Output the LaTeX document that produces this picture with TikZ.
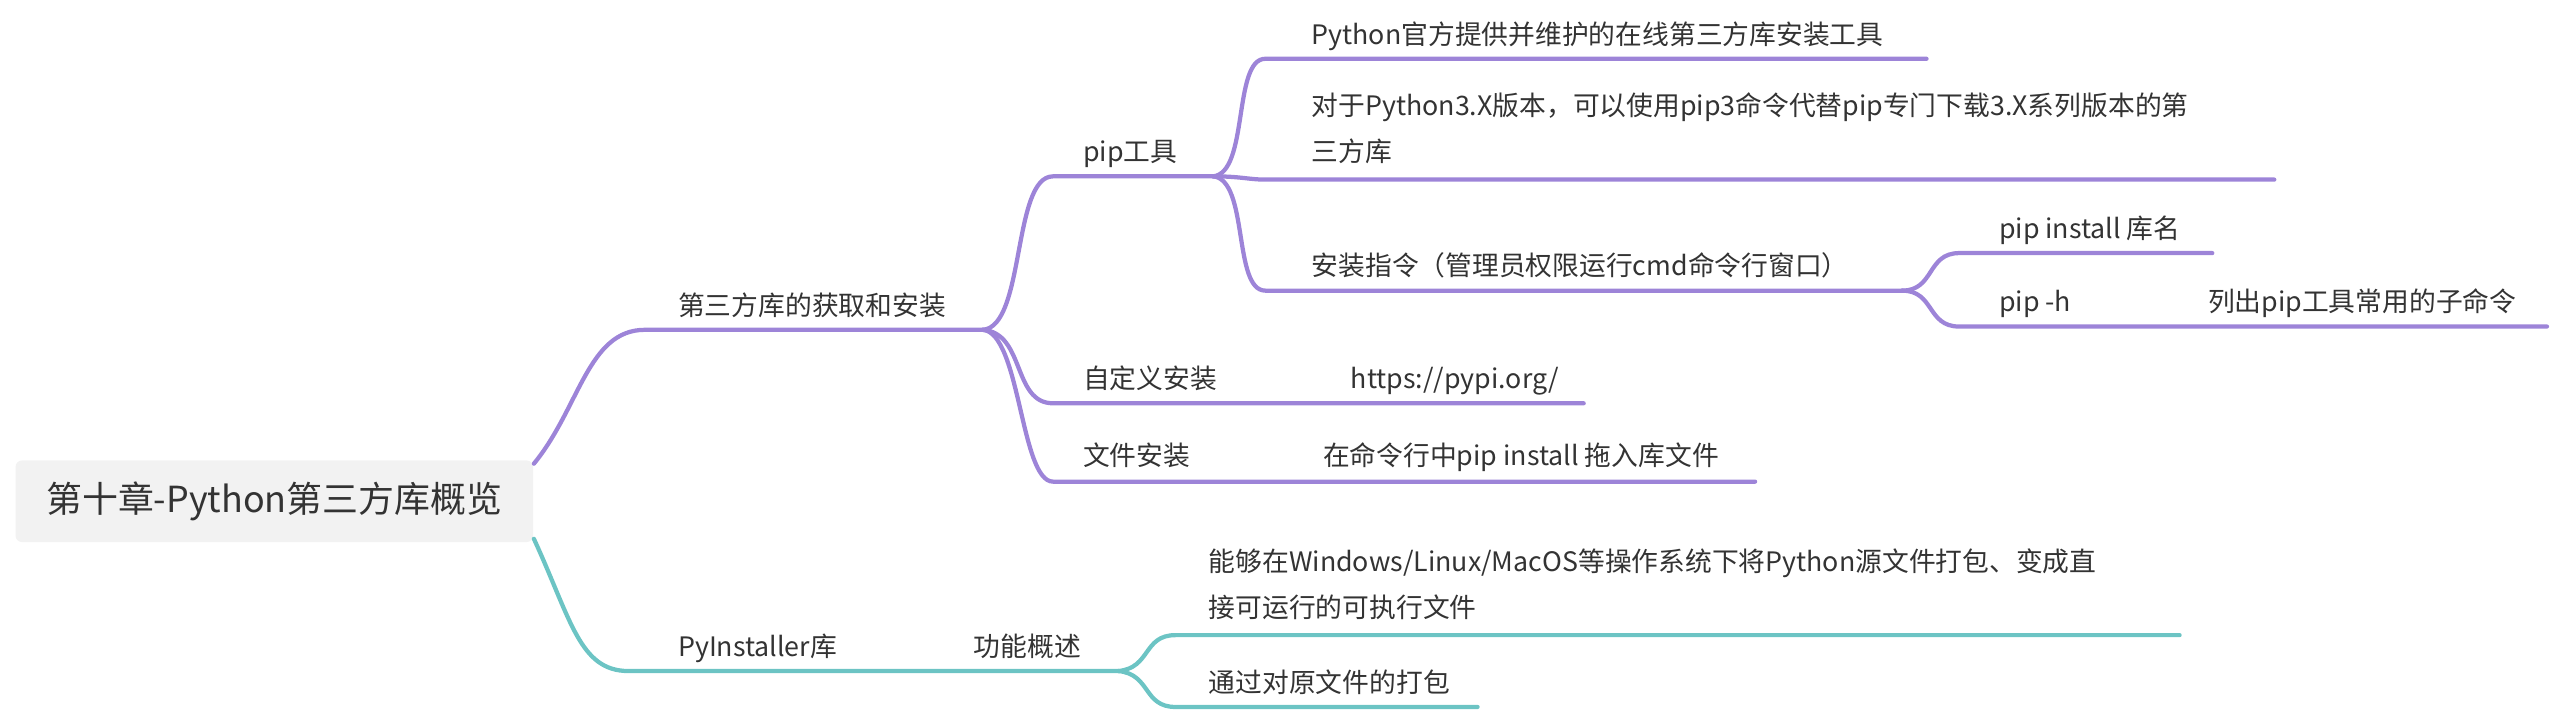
\documentclass[tikz,border=0pt]{standalone}
\usepackage{fontspec}
\setmainfont{Noto Sans CJK SC}
\definecolor{pur}{HTML}{9D84D8}
\definecolor{tea}{HTML}{6CC4C4}
\definecolor{txt}{HTML}{333333}
\begin{document}
\begin{tikzpicture}[x=0.5pt,y=-0.5pt,
  t/.style={anchor=base west,inner sep=0pt,text=txt,font=\fontsize{8.2}{10}\selectfont},
  pl/.style={draw=pur,line width=1.3pt,line cap=round},
  tl/.style={draw=tea,line width=1.3pt,line cap=round}]
\useasboundingbox (0,0) rectangle (1568,436);
\node[fill=black!5,rounded corners=2pt,minimum width=317*0.5pt,minimum height=50*0.5pt,text=txt,font=\fontsize{11}{13}\selectfont] (root) at (168,307) {第十章-Python第三方库概览};
% coordinates
\coordinate (r1) at (327,284); \coordinate (r2) at (327,330);
\coordinate (a0) at (395,202); \coordinate (a) at (602,202);
\coordinate (p0) at (645,108); \coordinate (p) at (743,108);
\coordinate (c0) at (645,247); \coordinate (c) at (970,247);
\coordinate (f0) at (645,295); \coordinate (f) at (1075,295);
\coordinate (q10) at (775,36); \coordinate (q1) at (1180,36);
\coordinate (q20) at (775,110); \coordinate (q2) at (1393,110);
\coordinate (q30) at (775,178); \coordinate (q3) at (1165,178);
\coordinate (s10) at (1200,155); \coordinate (s1) at (1355,155);
\coordinate (s20) at (1200,200); \coordinate (s2) at (1560,200);
\coordinate (b0) at (385,411); \coordinate (b) at (685,411);
\coordinate (g10) at (720,389); \coordinate (g1) at (1335,389);
\coordinate (g20) at (720,433); \coordinate (g2) at (905,433);
% purple
\path[pl] (r1) .. controls (355,250) and (360,202) .. (a0) -- (a);
\path[pl] (a) .. controls (628,200) and (620,108) .. (p0) -- (p);
\path[pl] (a) .. controls (628,204) and (620,247) .. (c0) -- (c);
\path[pl] (a) .. controls (625,204) and (625,295) .. (f0) -- (f);
\path[pl] (p) .. controls (765,106) and (755,36) .. (q10) -- (q1);
\path[pl] (p) .. controls (760,108) and (765,110) .. (q20) -- (q2);
\path[pl] (p) .. controls (765,110) and (755,178) .. (q30) -- (q3);
\path[pl] (q3) .. controls (1185,178) and (1180,155) .. (s10) -- (s1);
\path[pl] (q3) .. controls (1185,178) and (1180,200) .. (s20) -- (s2);
% teal
\path[tl] (r2) .. controls (350,380) and (355,411) .. (b0) -- (b);
\path[tl] (b) .. controls (705,409) and (700,389) .. (g10) -- (g1);
\path[tl] (b) .. controls (705,413) and (700,433) .. (g20) -- (g2);
% texts
\node[t] (ta) at (415,193) {第三方库的获取和安装};
\node[t] (tp) at (663,99) {pip工具};
\node[t] (t1) at (803,27) {Python官方提供并维护的在线第三方库安装工具};
\node[t] (t2) at (803,71) {对于Python3.X版本，可以使用pip3命令代替pip专门下载3.X系列版本的第};
\node[t] (t2b) at (803,99) {三方库};
\node[t] (t3) at (803,169) {安装指令（管理员权限运行cmd命令行窗口）};
\node[t] (t4) at (1224,146) {pip install 库名};
\node[t] (t5) at (1224,191) {pip -h};
\node[t] (t6) at (1352,191) {列出pip工具常用的子命令};
\node[t] (t7) at (663,238) {自定义安装};
\node[t] (t8) at (827,238) {https://pypi.org/};
\node[t] (t9) at (663,285) {文件安装};
\node[t] (t10) at (810,285) {在命令行中pip install 拖入库文件};
\node[t] (t11) at (415,402) {PyInstaller库};
\node[t] (t12) at (596,402) {功能概述};
\node[t] (t13) at (740,350) {能够在Windows/Linux/MacOS等操作系统下将Python源文件打包、变成直};
\node[t] (t14) at (740,378) {接可运行的可执行文件};
\node[t] (t15) at (740,424) {通过对原文件的打包};
\end{tikzpicture}
\end{document}
